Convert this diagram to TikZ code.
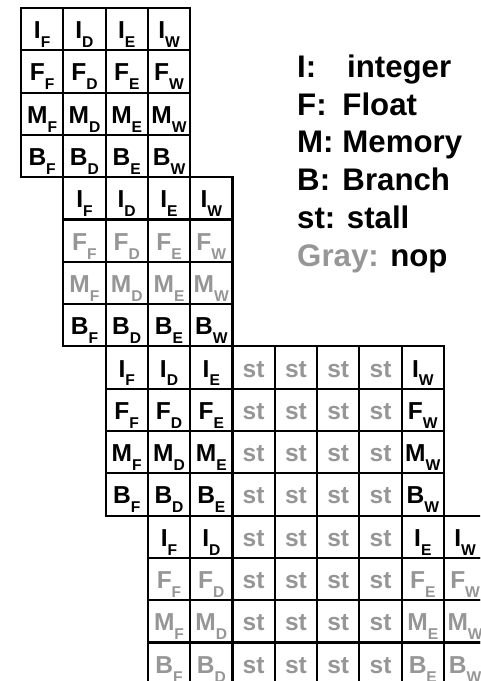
\documentclass[tikz,border=0pt]{standalone}
\usepackage{fontspec}
\setmainfont{Liberation Sans}[BoldFont={Liberation Sans Bold}]

\definecolor{nopgray}{RGB}{150,150,150}
% instruction class with its pipeline stage as a lowered index
\newcommand{\op}[2]{#1\raisebox{-6pt}{\fontsize{10.5}{10.5}\selectfont #2}}

\begin{document}
\begin{tikzpicture}[
    x=1cm,
    y=-1cm,
    cell/.style={
      draw,
      line width=1.4pt,
      minimum size=1cm,
      inner sep=0pt,
      outer sep=0pt,
      text height=12.8pt,
      text depth=0pt,
      font=\bfseries\fontsize{16.5}{16.5}\selectfont
    },
    nop/.style={text=nopgray},
    key/.style={
      anchor=base west,
      inner sep=0pt,
      font=\bfseries\fontsize{21}{21}\selectfont
    }
  ]
    \useasboundingbox (0, 0) rectangle (11.35, 16.10);
    \clip (0, 0) rectangle (11.35, 16.10);

    \begin{scope}[shift={(0.996, 0.689)}]
      % first issue group
      \foreach \r [count=\i from 0] in {I,F,M,B}
        \foreach \s [count=\j from 0] in {F,D,E,W}
          \node[cell] (a\r\s) at (\j, \i) {\op{\r}{\s}};

      % second group, F and M are nops
      \foreach \r/\tone [count=\i from 4] in {I/black,F/nopgray,M/nopgray,B/black}
        \foreach \s [count=\j from 1] in {F,D,E,W}
          \node[cell, text=\tone] (b\r\s) at (\j, \i) {\op{\r}{\s}};

      % third group stalls before write back
      \foreach \r [count=\i from 8] in {I,F,M,B} {
        \foreach \s [count=\j from 2] in {F,D,E}
          \node[cell] (c\r\s) at (\j, \i) {\op{\r}{\s}};
        \foreach \j in {5,...,8}
          \node[cell, nop] (c\r-st\j) at (\j, \i) {st};
        \node[cell] (c\r W) at (9, \i) {\op{\r}{W}};
      }

      % fourth group stalls before execute
      \foreach \r/\tone [count=\i from 12] in {I/black,F/nopgray,M/nopgray,B/nopgray} {
        \foreach \s [count=\j from 3] in {F,D}
          \node[cell, text=\tone] (d\r\s) at (\j, \i) {\op{\r}{\s}};
        \foreach \j in {5,...,8}
          \node[cell, nop] (d\r-st\j) at (\j, \i) {st};
        \foreach \s [count=\j from 9] in {E,W}
          \node[cell, text=\tone] (d\r\s) at (\j, \i) {\op{\r}{\s}};
      }
    \end{scope}

    % legend
    \node[key] (keyI) at (7.02, 1.827) {I:};
    \node[key] (valI) at (8.20, 1.827) {integer};
    \node[key] (keyF) at (7.02, 2.721) {F:};
    \node[key] (valF) at (8.09, 2.721) {Float};
    \node[key] (keyM) at (7.02, 3.615) {M:};
    \node[key] (valM) at (8.09, 3.615) {Memory};
    \node[key] (keyB) at (7.02, 4.509) {B:};
    \node[key] (valB) at (8.09, 4.509) {Branch};
    \node[key] (keyst) at (7.02, 5.403) {st: stall};
    \node[key] (keygray) at (7.02, 6.297) {\textcolor{nopgray}{Gray:} nop};
  \end{tikzpicture}
\end{document}
